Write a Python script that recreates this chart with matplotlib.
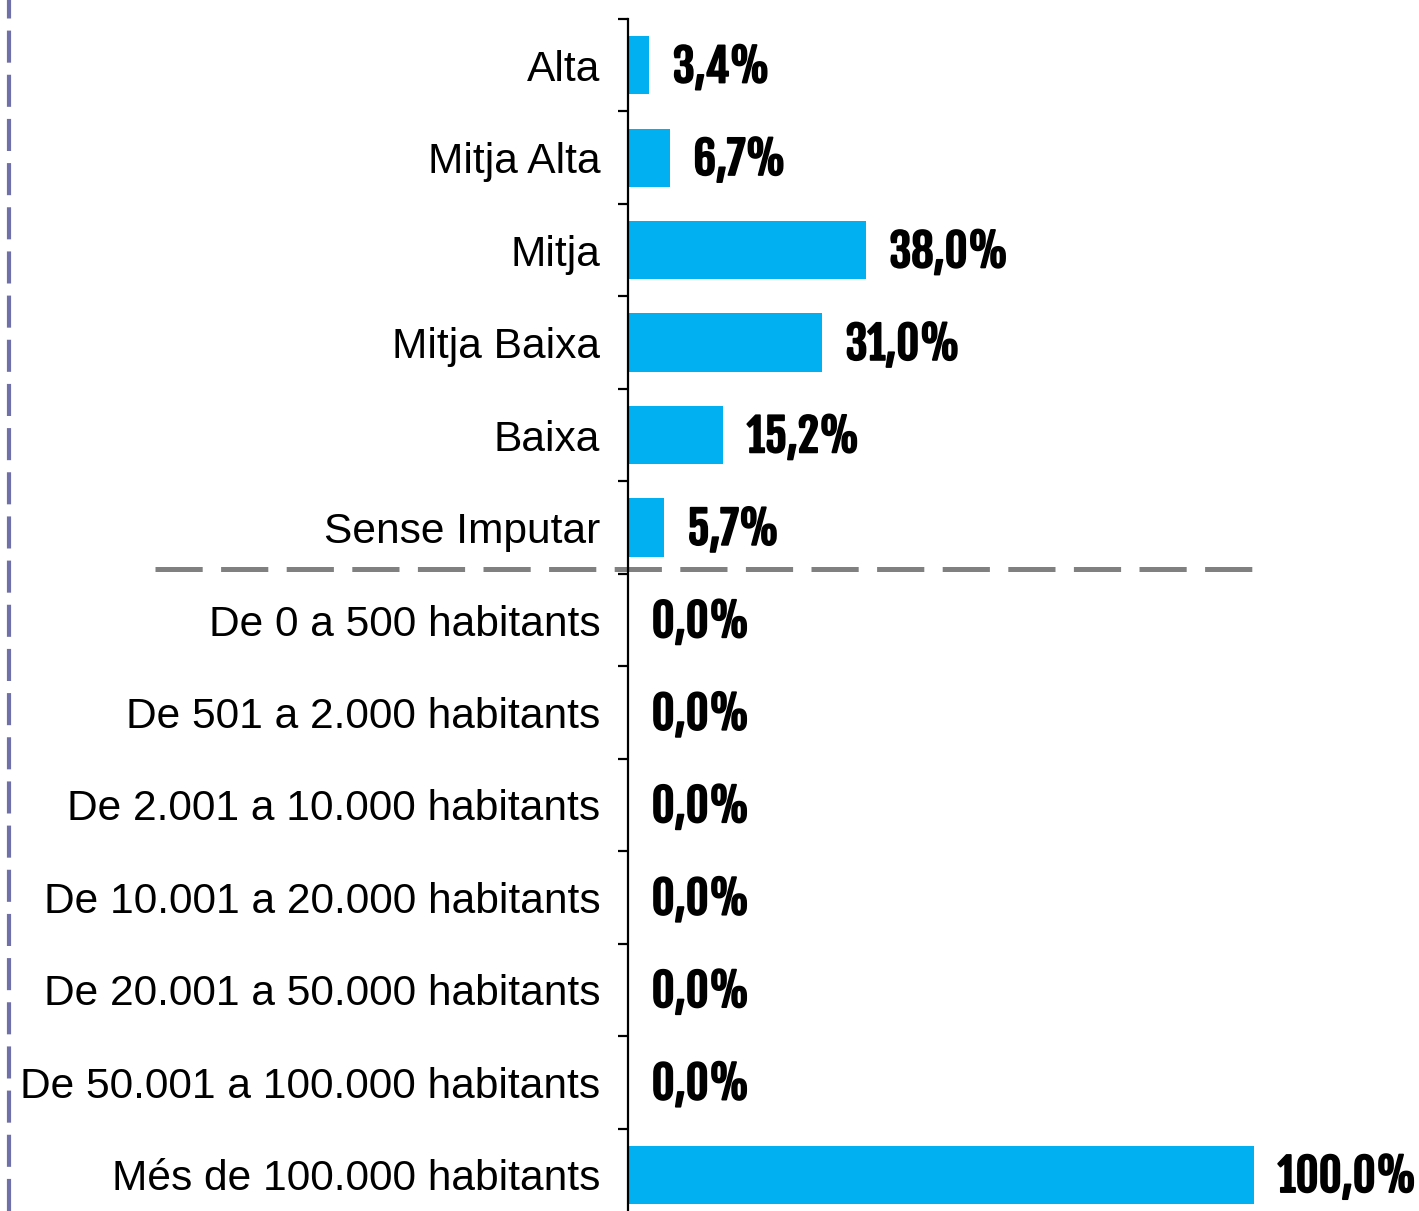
import matplotlib
matplotlib.use("Agg")
import matplotlib.pyplot as plt
import matplotlib.patheffects as pe
from matplotlib.lines import Line2D
from matplotlib import font_manager
import numpy as np

categories = ["Alta", "Mitja Alta", "Mitja", "Mitja Baixa", "Baixa", "Sense Imputar",
              "De 0 a 500 habitants", "De 501 a 2.000 habitants",
              "De 2.001 a 10.000 habitants", "De 10.001 a 20.000 habitants",
              "De 20.001 a 50.000 habitants", "De 50.001 a 100.000 habitants",
              "Més de 100.000 habitants"]
values = [3.4, 6.7, 38.0, 31.0, 15.2, 5.7, 0.0, 0.0, 0.0, 0.0, 0.0, 0.0, 100.0]
labels = ["3,4%", "6,7%", "38,0%", "31,0%", "15,2%", "5,7%",
          "0,0%", "0,0%", "0,0%", "0,0%", "0,0%", "0,0%", "100,0%"]

# narrow bold face for the value labels (Arial Narrow look-alike)
names = {f.name for f in font_manager.fontManager.ttflist}
narrow = next((f for f in ["Fjalla One", "Oswald", "Roboto Condensed", "DejaVu Sans"]
               if f in names), "DejaVu Sans")
plt.rcParams['font.family'] = ['Liberation Sans', 'DejaVu Sans']

W, H = 1419, 1211
fig = plt.figure(figsize=(W / 100, H / 100), dpi=100)
# axes placed in pixel terms: spine at x=628, top at y=19, bottom below the figure edge
ax = fig.add_axes([628 / W, 1 - 1221 / H, 1 - 628 / W, (1221 - 19) / H])

y = np.arange(len(categories))
ax.barh(y, values, height=0.63, color="#00B0F0")
ax.set_xlim(0, 791 / 6.26)
ax.set_ylim(len(categories) - 0.5, -0.5)

for yi, v, lab in zip(y, values, labels):
    ax.annotate(lab, (v, yi), xytext=(17, -2), textcoords="offset points",
                ha="left", va="center", fontsize=32, fontweight="bold",
                family=narrow, annotation_clip=False,
                path_effects=[pe.withStroke(linewidth=1.3, foreground="black")])

ax.set_yticks(y)
ax.set_yticklabels(categories, fontsize=30.6)
ax.set_yticks(np.arange(-0.5, len(categories) + 0.5, 1), minor=True)
ax.tick_params(axis="y", which="major", length=0, pad=20)
ax.tick_params(axis="y", which="minor", length=7, width=1.6, direction="out")
ax.set_xticks([])
for s in ["top", "right", "bottom"]:
    ax.spines[s].set_visible(False)
ax.spines["left"].set_linewidth(1.6)

# separator between the two groups
ax.plot([-75.6, 99.7], [5.45, 5.45], color="#808080", lw=3.6,
        dashes=(9.44, 3.68), clip_on=False)

# dashed border line on the left
fig.add_artist(Line2D([9 / W, 9 / W], [0, 1], transform=fig.transFigure,
                      color="#7070A8", lw=3, dashes=(7.7, 2.9)))

fig.savefig("out.png", dpi=100)
